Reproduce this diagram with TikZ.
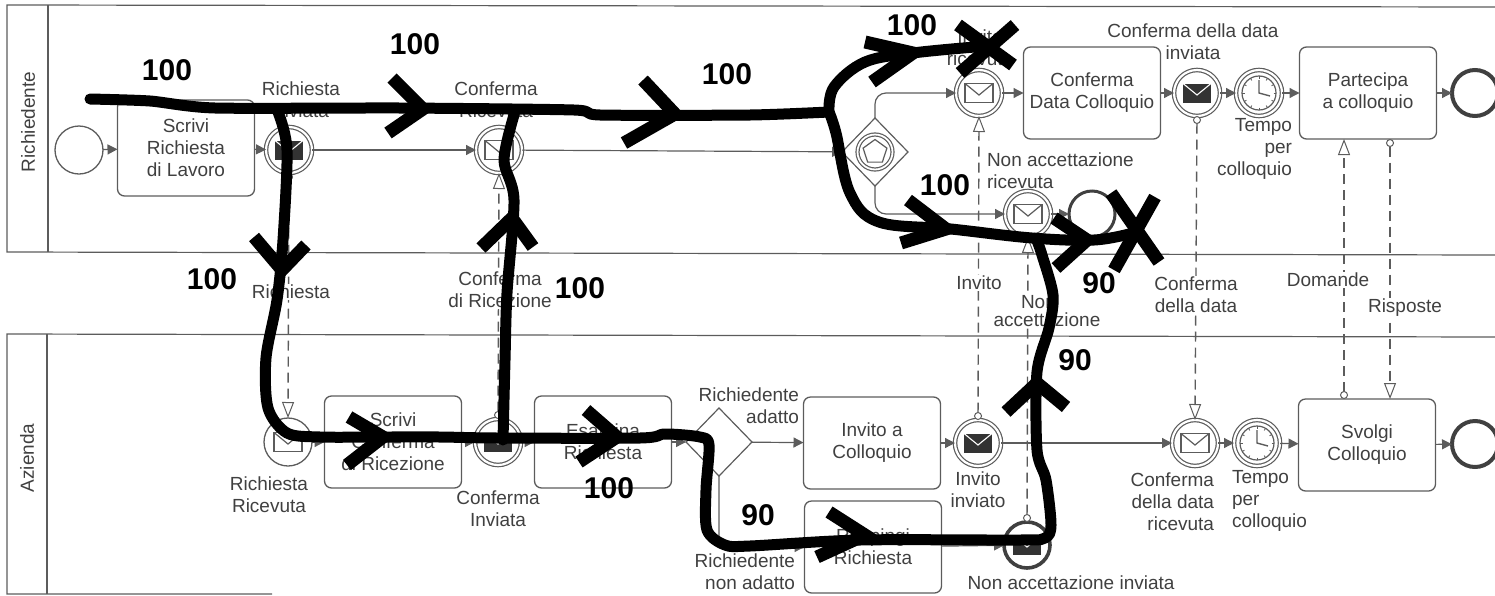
\documentclass[tikz,border=0pt]{standalone}
\usepackage{fontspec}
\setmainfont{Liberation Sans}
\usetikzlibrary{arrows.meta,shapes.geometric}
\definecolor{ln}{gray}{0.36}
\definecolor{tx}{gray}{0.25}
\tikzset{
  every node/.style={inner sep=0pt,outer sep=0pt,text=tx,font=\fontsize{19}{22}\selectfont},
  lanebox/.style={draw=ln,line width=1.2pt},
  taskbox/.style={draw=ln,line width=1.3pt,rounded corners=7pt,minimum width=137pt,minimum height=92pt,align=center},
  evsingle/.style={circle,draw=ln,line width=1.3pt,minimum size=48pt},
  evdouble/.style={circle,draw=ln,line width=1.2pt,double=white,double distance=2.2pt,minimum size=46pt},
  evend/.style={circle,draw=ln!70!black,line width=4pt,minimum size=46pt},
  gatebox/.style={diamond,draw=ln,line width=1.2pt,minimum width=66pt,minimum height=68pt},
  flow/.style={draw=ln,line width=1.2pt,-{Triangle[length=10pt,width=10pt]}},
  msg/.style={draw=ln,line width=1.4pt,dash pattern=on 10pt off 6pt,{Circle[open,fill=white,length=8pt,width=8pt,line width=1pt]}-{Triangle[open,fill=white,length=16pt,width=12pt,line width=1pt]}},
  lab/.style={align=center},
  lablane/.style={align=center,fill=white,inner sep=1pt},
  num/.style={text=black,font=\fontsize{30}{32}\selectfont\bfseries},
  sketch/.style={draw=black,line width=11pt,line cap=round,line join=round},
  chevron/.style={draw=black,line width=13pt,line cap=butt,line join=miter},
  pics/envw/.style={code={\draw[draw=ln,line width=1.2pt,fill=white] (-14,-9.5) rectangle (14,9.5);\draw[draw=ln,line width=1.2pt] (-14,-9.5) -- (0,2) -- (14,-9.5);}},
  pics/envb/.style={code={\fill[black!80] (-14,-9.5) rectangle (14,9.5);\draw[white,line width=1.1pt] (-14,-9.5) -- (0,2) -- (14,-9.5);}},
  pics/clock/.style={code={\draw[ln,line width=1.2pt,fill=white] (0,0) circle (17);
    \foreach \a in {0,30,...,330}{\draw[ln,line width=0.8pt] (\a:14.5) -- (\a:17);}
    \draw[ln,line width=1.4pt] (0,-13) -- (0,0) -- (11,3);}}
}
\begin{document}
\begin{tikzpicture}[x=1pt,y=-1pt]
\useasboundingbox (0,0) rectangle (1495,595);
% lanes
\draw[lanebox] (1495,7) -- (7,5) -- (7,252) -- (1495,255);
\draw[lanebox] (48,5) -- (48,252);
\draw[lanebox] (1495,337) -- (7,334) -- (7,594) -- (272,594);
\draw[lanebox] (47,334) -- (47,594);
\node[rotate=90] (laneA) at (28,122) {Richiedente};
\node[rotate=90] (laneB) at (27,458) {Azienda};
% top lane nodes
\node[evsingle] (st1) at (79,150) {};
\node[taskbox,minimum height=96pt] (t1) at (186,148) {Scrivi\\Richiesta\\di Lavoro};
\node[evdouble] (e1) at (289,150) {};
\node[evdouble] (e2) at (499,150) {};
\node[gatebox] (g1) at (875,152) {};
\node[evdouble] (e3) at (979,93) {};
\node[taskbox] (t2) at (1092,93) {Conferma\\Data Colloquio};
\node[evdouble] (e4) at (1197,93) {};
\node[evdouble] (k1) at (1259,93) {};
\node[taskbox] (t3) at (1368,93) {Partecipa\\a colloquio};
\node[evend] (x1) at (1475,93) {};
\node[evdouble] (e5) at (1028,214) {};
\node[evend,line width=3pt] (x2) at (1092,214) {};
% bottom lane nodes
\node[evsingle] (e6) at (288,442) {};
\node[taskbox] (t4) at (393,442) {Scrivi\\Conferma\\di Ricezione};
\node[evdouble] (e7) at (498,442) {};
\node[taskbox] (t5) at (603,442) {Esamina\\Richiesta};
\node[gatebox] (g2) at (719,442) {};
\node[taskbox] (t6) at (872,443) {Invito a\\Colloquio};
\node[evdouble] (e8) at (978,443) {};
\node[evdouble] (e9) at (1195,443) {};
\node[evdouble] (k2) at (1257,443) {};
\node[taskbox] (t7) at (1367,445) {Svolgi\\Colloquio};
\node[evend] (x3) at (1475,444) {};
\node[taskbox] (t8) at (873,547) {Respingi\\Richiesta};
\node[evend,line width=3.6pt] (e10) at (1027,545) {};
% icons
\pic at (e1) {envb};
\pic at (e2) {envw};
\pic at (e3) {envw};
\pic at (e4) {envb};
\pic at (e5) {envw};
\pic at (e6) {envw};
\pic at (e7) {envb};
\pic at (e8) {envb};
\pic at (e9) {envw};
\pic at (e10) {envb};
\pic at (k1) {clock};
\pic at (k2) {clock};
\node[circle,draw=ln,line width=1.2pt,double=white,double distance=1.8pt,minimum size=35pt] (g1c) at (g1) {};
\node[regular polygon,regular polygon sides=5,draw=ln,line width=1.2pt,minimum size=25pt] (g1p) at (g1) {};
% flows
\draw[flow] (st1) -- (t1);
\draw[flow] (t1) -- (e1);
\draw[flow] (e1) -- (e2);
\draw[flow] (e2) -- (g1);
\draw[flow,rounded corners=11pt] (g1.north) |- (e3);
\draw[flow,rounded corners=11pt] (g1.south) |- (e5);
\draw[flow] (e3) -- (t2);
\draw[flow] (t2) -- (e4);
\draw[flow] (e4) -- (k1);
\draw[flow] (k1) -- (t3);
\draw[flow] (t3) -- (x1);
\draw[flow] (e5) -- (x2);
\draw[flow] (e6) -- (t4);
\draw[flow] (t4) -- (e7);
\draw[flow] (e7) -- (t5);
\draw[flow] (t5) -- (g2);
\draw[flow] (g2) -- (t6);
\draw[flow] (t6) -- (e8);
\draw[flow] (e8) -- (e9);
\draw[flow] (e9) -- (k2);
\draw[flow] (k2) -- (t7);
\draw[flow] (t7) -- (x3);
\draw[flow,rounded corners=11pt] (g2.south) |- (t8);
\draw[flow] (t8) -- (e10);
% messages
\coordinate (dA) at (1344,399);
\coordinate (dB) at (1344,139);
\coordinate (rA) at (1390,139);
\coordinate (rB) at (1390,399);
\draw[msg] (e1.south) -- (e6.north);
\draw[msg] (e7.north) -- (e2.south);
\draw[msg] (e8.north) -- (e3.south);
\draw[msg] (e10.north) -- (e5.south);
\draw[msg] (e4.south) -- (e9.north);
\draw[msg] (dA) -- (dB);
\draw[msg] (rA) -- (rB);
% message labels
\node[lablane] (l1) at (291,292) {Richiesta};
\node[lablane] (l2) at (500,290) {Conferma\\di Ricezione};
\node[lablane] (l3) at (979,283) {Invito};
\node[lablane,anchor=west] (l4a) at (1020,302) {Non};
\node[lablane] (l4b) at (1047,320) {accettazione};
\node[lablane] (l5) at (1196,295) {Conferma\\della data};
\node[lablane] (l6) at (1328,280) {Domande};
\node[lablane] (l7) at (1405,308) {Risposte};
% event labels
\node[lab] (a1) at (301,100) {Richiesta\\Inviata};
\node[lab] (a2) at (496,100) {Conferma\\Ricevuta};
\node[lab] (a3) at (980,48) {Invito\\ricevuto};
\node[lab] (a4) at (1193,42) {Conferma della data\\inviata};
\node[lab,align=right,anchor=east] (a5) at (1292,149) {Tempo\\per\\colloquio};
\node[lab,align=left,anchor=west] (a6) at (987,171) {Non accettazione\\ricevuta};
\node[lab] (a7) at (269,495) {Richiesta\\Ricevuta};
\node[lab] (a8) at (498,509) {Conferma\\Inviata};
\node[lab,align=right,anchor=east] (a9) at (799,406) {Richiedente\\adatto};
\node[lab,align=right,anchor=east] (a10) at (795,572) {Richiedente\\non adatto};
\node[lab] (a11) at (978,490) {Invito\\inviato};
\node[lab,align=right,anchor=east] (a12) at (1214,502) {Conferma\\della data\\ricevuta};
\node[lab,align=left,anchor=west] (a13) at (1232,501) {Tempo\\per\\colloquio};
\node[lab] (a14) at (1071,583) {Non accettazione inviata};
% sketch over the diagram
\draw[sketch] plot[smooth,tension=0.4] coordinates {(90,99) (150,101) (215,108) (400,108) (574,110) (600,115) (750,115) (829,112)};
\draw[sketch] plot[smooth,tension=0.6] coordinates {(829,112) (834,87) (865,62) (913,53) (975,47)};
\draw[sketch] plot[smooth,tension=0.6] coordinates {(829,112) (836,133) (850,193) (879,222) (951,229) (1032,238) (1094,240) (1133,233)};
\draw[sketch] plot[smooth,tension=0.5] coordinates {(278,112) (287,150) (283,240) (277,300) (266,358) (268,408) (287,433) (320,437) (383,437) (440,437) (498,438) (640,438) (665,434) (700,437) (709,445) (706,490) (707,530) (725,545) (750,546) (860,540) (1020,540) (1045,538) (1051,525) (1046,480) (1037,450) (1037,372) (1049,328) (1053,295) (1042,255) (1036,238)};
\draw[sketch] plot[smooth,tension=0.5] coordinates {(503,440) (505,360) (507,293) (514,200) (504,160) (514,115)};
\draw[chevron] (392,78) -- (423,109) -- (388,133);
\draw[chevron] (643,80) -- (675,114) -- (624,143);
\draw[chevron] (865,42) -- (913,53) -- (872,82);
\draw[chevron] (908,200) -- (946,229) -- (901,243);
\draw[chevron] (1054,218) -- (1087,240) -- (1056,268);
\draw[chevron] (254,237) -- (282,270) -- (306,245);
\draw[chevron] (481,248) -- (512,218) -- (533,247);
\draw[chevron] (349,417) -- (383,437) -- (347,465);
\draw[chevron] (586,410) -- (617,437) -- (579,462);
\draw[chevron] (829,512) -- (865,535) -- (817,557);
\draw[chevron] (1006,412) -- (1037,383) -- (1066,407);
\draw[sketch,line width=13pt,line cap=butt] (958,25) -- (1013,65);
\draw[sketch,line width=13pt,line cap=butt] (1015,25) -- (960,73);
\draw[sketch,line width=13pt,line cap=butt] (1111,193) -- (1159,262);
\draw[sketch,line width=13pt,line cap=butt] (1155,197) -- (1114,270);
% numbers
\node[num] (n1) at (167,70) {100};
\node[num] (n2) at (415,44) {100};
\node[num] (n3) at (727,74) {100};
\node[num] (n4) at (912,25) {100};
\node[num] (n5) at (945,185) {100};
\node[num] (n6) at (212,279) {100};
\node[num] (n7) at (580,288) {100};
\node[num] (n8) at (609,488) {100};
\node[num] (n9) at (1099,283) {90};
\node[num] (n10) at (1075,360) {90};
\node[num] (n11) at (758,515) {90};
\end{tikzpicture}
\end{document}
